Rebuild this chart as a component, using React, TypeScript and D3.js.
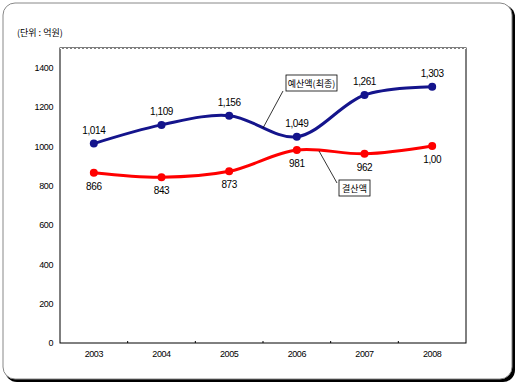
import { useEffect, useRef } from "react";
import * as d3 from "d3";

const years = ["2003", "2004", "2005", "2006", "2007", "2008"];
const budget = [1014, 1109, 1156, 1049, 1261, 1303];
const budgetLabels = ["1,014", "1,109", "1,156", "1,049", "1,261", "1,303"];
const settled = [866, 843, 873, 981, 962, 1002];
const settledLabels = ["866", "843", "873", "981", "962", "1,00"];
const yTicks = [0, 200, 400, 600, 800, 1000, 1200, 1400];

const FONT = "'Liberation Sans Narrow', 'Liberation Sans', sans-serif";
const KFONT = "'Noto Sans CJK KR', sans-serif";

function App() {
  const ref = useRef<SVGSVGElement>(null);

  useEffect(() => {
    const svg = d3.select(ref.current);
    svg.selectAll("*").remove();

    const width = 520;
    const height = 387;
    const margin = { top: 48, right: 54, bottom: 44, left: 60 };

    // outer frame with shadow
    svg.append("rect")
      .attr("x", 5).attr("y", 5).attr("width", 510).attr("height", 377)
      .attr("rx", 12).attr("fill", "#000");
    svg.append("rect")
      .attr("x", 3).attr("y", 3).attr("width", 509).attr("height", 376)
      .attr("rx", 12).attr("fill", "#fff").attr("stroke", "#888").attr("stroke-width", 1);

    const x = d3.scaleBand()
      .domain(years)
      .range([margin.left, width - margin.right]);

    const y = d3.scaleLinear()
      .domain([0, 1500])
      .range([height - margin.bottom, margin.top]);

    const cx = (i: number) => (x(years[i]) as number) + x.bandwidth() / 2;

    // plot frame
    svg.append("rect")
      .attr("x", margin.left).attr("y", margin.top)
      .attr("width", width - margin.left - margin.right)
      .attr("height", height - margin.top - margin.bottom)
      .attr("fill", "none").attr("stroke", "#000").attr("stroke-width", 1);
    svg.append("line")
      .attr("x1", margin.left).attr("x2", width - margin.right)
      .attr("y1", margin.top + 0.5).attr("y2", margin.top + 0.5)
      .attr("stroke", "#fff").attr("stroke-width", 1.2)
      .attr("stroke-dasharray", "2,2");

    // axes
    const yAxis = svg.append("g")
      .attr("transform", `translate(${margin.left},0)`)
      .call(d3.axisLeft(y).tickValues(yTicks).tickFormat(d3.format("d")).tickSize(0).tickPadding(7));
    yAxis.select(".domain").remove();
    yAxis.selectAll("text").attr("font-family", FONT).attr("font-size", 9)
      .attr("letter-spacing", -0.4).attr("fill", "#000");

    const xAxis = svg.append("g")
      .attr("transform", `translate(0,${height - margin.bottom})`)
      .call(d3.axisBottom(x).tickSize(0).tickPadding(8));
    xAxis.select(".domain").remove();
    xAxis.selectAll("text").attr("font-family", FONT).attr("font-size", 9)
      .attr("letter-spacing", -0.4).attr("fill", "#000");

    // tick marks between categories on bottom
    svg.append("g").selectAll("line")
      .data(years.slice(1))
      .join("line")
      .attr("x1", (d) => x(d) as number).attr("x2", (d) => x(d) as number)
      .attr("y1", height - margin.bottom - 2).attr("y2", height - margin.bottom)
      .attr("stroke", "#000");

    const line = d3.line<number>()
      .x((_, i) => cx(i))
      .y((d) => y(d))
      .curve(d3.curveCatmullRom.alpha(0.5));

    const series = [
      { values: budget, labels: budgetLabels, color: "#14148c", dy: -10 },
      { values: settled, labels: settledLabels, color: "#ff0000", dy: 17 },
    ];

    series.forEach((s) => {
      svg.append("path")
        .datum(s.values)
        .attr("d", line)
        .attr("fill", "none")
        .attr("stroke", s.color)
        .attr("stroke-width", 3);

      svg.append("g").selectAll("circle")
        .data(s.values)
        .join("circle")
        .attr("cx", (_, i) => cx(i))
        .attr("cy", (d) => y(d))
        .attr("r", 4)
        .attr("fill", s.color);

      svg.append("g").selectAll("text")
        .data(s.values)
        .join("text")
        .attr("x", (_, i) => cx(i))
        .attr("y", (d) => y(d) + s.dy)
        .attr("text-anchor", "middle")
        .attr("font-family", FONT)
        .attr("font-size", 10)
        .attr("letter-spacing", -0.4)
        .text((_, i) => s.labels[i]);
    });

    // unit label
    svg.append("text")
      .attr("x", 17).attr("y", 36)
      .attr("font-family", KFONT).attr("font-size", 9)
      .text("(단위 : 억원)");

    // callouts
    const callouts = [
      { text: "예산액(최종)", bx: 286, by: 75, bw: 51, lx: 283, ly: 91, tx: 263, ty: 128 },
      { text: "결산액", bx: 339, by: 180, bw: 31, lx: 337, ly: 183, tx: 319, ty: 151 },
    ];
    callouts.forEach((c) => {
      svg.append("line")
        .attr("x1", c.lx).attr("y1", c.ly).attr("x2", c.tx).attr("y2", c.ty)
        .attr("stroke", "#000").attr("stroke-width", 0.8);
      svg.append("rect")
        .attr("x", c.bx).attr("y", c.by).attr("width", c.bw).attr("height", 16)
        .attr("fill", "#fff").attr("stroke", "#000").attr("stroke-width", 0.8);
      svg.append("text")
        .attr("x", c.bx + c.bw / 2).attr("y", c.by + 11.5)
        .attr("text-anchor", "middle")
        .attr("font-family", KFONT).attr("font-size", 9)
        .text(c.text);
    });
  }, []);

  return (
    <svg
      ref={ref}
      width={520}
      height={387}
      style={{ position: "absolute", left: 0, top: 0, background: "#fff" }}
    ></svg>
  );
}

export default App;
